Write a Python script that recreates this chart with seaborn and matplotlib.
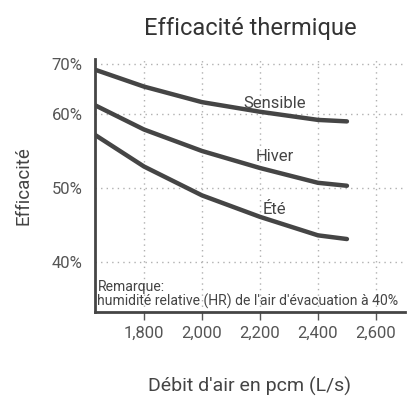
import numpy as np
import pandas as pd
import matplotlib
matplotlib.use("Agg")
import matplotlib.pyplot as plt
import seaborn as sns

# Data (y in axis units where ticks 40/50/60 are evenly spaced)
airflow = [1630, 1800, 2000, 2200, 2400, 2500]
sensible = [66.0, 63.7, 61.6, 60.3, 59.2, 59.0]
hiver = [61.2, 57.9, 55.0, 52.7, 50.7, 50.3]
ete = [57.2, 52.9, 49.0, 46.1, 43.6, 43.1]
series_names = ["Sensible", "Hiver", "Été"]

x_ticks = [1800, 2000, 2200, 2400, 2600]
x_tick_labels = ["1,800", "2,000", "2,200", "2,400", "2,600"]
y_ticks = [40, 50, 60, 66.76]
y_tick_labels = ["40%", "50%", "60%", "70%"]

df = pd.DataFrame({
    "Débit": airflow * 3,
    "Efficacité": sensible + hiver + ete,
    "Série": [n for n in series_names for _ in airflow],
})

sns.set_style("white")
plt.rcParams["font.family"] = ["Roboto", "DejaVu Sans"]

fig = plt.figure(figsize=(4.09, 4.0), dpi=100)
ax = fig.add_axes([0.2323, 0.22, 0.7577, 0.6325])

dark = "#454545"
sns.lineplot(data=df, x="Débit", y="Efficacité", hue="Série",
             palette=[dark, dark, dark], linewidth=3.2, legend=False,
             ax=ax, clip_on=True)

ax.set_xlim(1631, 2700)
ax.set_ylim(33.24, 67.43)

ax.set_xticks(x_ticks)
ax.set_xticklabels(x_tick_labels, fontsize=12, color="#555555")
ax.set_yticks(y_ticks)
ax.set_yticklabels(y_tick_labels, fontsize=12, color="#555555")

ax.grid(True, linestyle=(0, (1, 3)), color="#b0b0b0", linewidth=1)
ax.tick_params(axis="x", length=6, width=1, color="#555555", pad=4, direction="out", bottom=True)
ax.tick_params(axis="y", length=0, pad=9)

for side in ["top", "right"]:
    ax.spines[side].set_visible(False)
for side in ["left", "bottom"]:
    ax.spines[side].set_color(dark)
    ax.spines[side].set_linewidth(2)

ax.set_xlabel("Débit d'air en pcm (L/s)", fontsize=14, color="#444444", labelpad=26)
ax.set_ylabel("Efficacité", fontsize=13.5, color="#444444", labelpad=14)
ax.set_title("Efficacité thermique", fontsize=17, color="#333333", pad=17)

lab_kw = dict(ha="center", va="center", fontsize=12, color="#444444")
ax.text(2250, 61.45, "Sensible", **lab_kw)
ax.text(2250, 54.2, "Hiver", **lab_kw)
ax.text(2250, 47.1, "Été", **lab_kw)

ax.text(0.008, 0.012, "Remarque:\nhumidité relative (HR) de l'air d'évacuation à 40%",
        transform=ax.transAxes, ha="left", va="bottom", fontsize=10.1,
        color="#444444", linespacing=1.0)

fig.savefig("out.png", dpi=100)
